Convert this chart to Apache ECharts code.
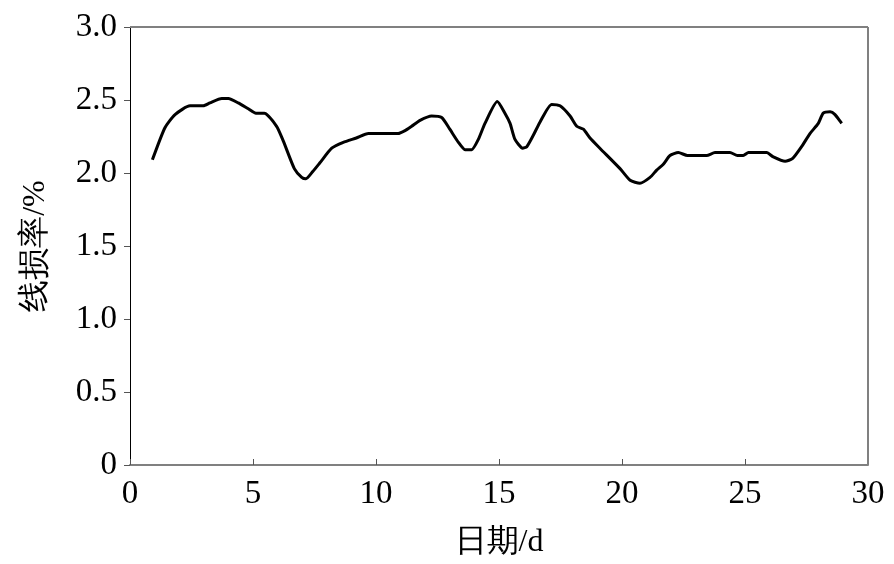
<!DOCTYPE html>
<html>
<head>
<meta charset="utf-8">
<script src="https://cdn.jsdelivr.net/npm/echarts@6/dist/echarts.min.js"></script>
<style>html,body{margin:0;padding:0;background:#fff}#c{width:894px;height:564px}</style>
</head>
<body>
<div id="c"></div>
<script>
var days = [0.91,1.42,1.83,2.44,2.98,3.25,3.73,4.0,4.4,4.81,5.12,5.46,5.96,6.23,6.68,6.98,7.15,7.43,7.72,8.2,8.67,9.2,9.69,10.16,10.9,11.18,11.45,11.79,12.26,12.67,13.0,13.35,13.62,13.89,14.16,14.43,14.93,15.24,15.45,15.65,15.96,16.13,16.4,16.67,17.14,17.48,17.89,18.16,18.43,18.7,19.1,19.92,20.33,20.73,21.14,21.41,21.68,21.95,22.29,22.66,23.44,23.78,24.39,24.69,24.93,25.14,25.88,26.15,26.63,26.94,27.3,27.64,27.98,28.18,28.46,28.66,28.93];
var rates = [2.09,2.31,2.40,2.46,2.46,2.48,2.51,2.51,2.48,2.44,2.41,2.41,2.32,2.22,2.03,1.97,1.96,2.01,2.07,2.17,2.21,2.24,2.27,2.27,2.27,2.29,2.32,2.36,2.39,2.38,2.30,2.21,2.16,2.16,2.23,2.34,2.49,2.41,2.34,2.23,2.17,2.18,2.26,2.35,2.47,2.46,2.39,2.32,2.30,2.24,2.17,2.03,1.95,1.93,1.97,2.02,2.06,2.12,2.14,2.12,2.12,2.14,2.14,2.12,2.12,2.14,2.14,2.11,2.08,2.10,2.18,2.27,2.34,2.41,2.42,2.40,2.34];
var xTicks = [0,5,10,15,20,25,30];
var yTicks = ['0','0.5','1.0','1.5','2.0','2.5','3.0'];

var pts = days.map(function(d,i){return [d, rates[i]];});
var font = 'Liberation Serif';
var chart = echarts.init(document.getElementById('c'));
chart.setOption({
  animation: false,
  backgroundColor: '#fff',
  grid: {left: 130, right: 26, top: 27, bottom: 98},
  xAxis: {
    type: 'value', min: 0, max: 30, interval: 5,
    name: '日期/d', nameLocation: 'middle', nameGap: 62,
    nameTextStyle: {fontFamily: font, fontSize: 32, color: '#000'},
    axisLine: {show: true, lineStyle: {color: '#808080', width: 2}},
    axisTick: {show: true, inside: true, length: 6, lineStyle: {color: '#555', width: 1}},
    axisLabel: {fontFamily: font, fontSize: 33, color: '#000', margin: 13,
      formatter: function(v){ return xTicks.indexOf(v) >= 0 ? String(v) : ''; }},
    splitLine: {show: false}
  },
  yAxis: {
    type: 'value', min: 0, max: 3, interval: 0.5,
    name: '线损率/%', nameLocation: 'middle', nameGap: 78, nameRotate: 90,
    nameTextStyle: {fontFamily: font, fontSize: 32, color: '#000'},
    axisLine: {show: true, lineStyle: {color: '#000', width: 1}},
    axisTick: {show: true, inside: false, length: 6, lineStyle: {color: '#555', width: 1}},
    axisLabel: {fontFamily: font, fontSize: 33, color: '#000', margin: 13,
      formatter: function(v){ var s = v === 0 ? '0' : v.toFixed(1); return yTicks.indexOf(s) >= 0 ? s : ''; }},
    splitLine: {show: false}
  },
  series: [
    {
      type: 'line', data: pts, smooth: 0.2, showSymbol: false,
      lineStyle: {color: '#000', width: 3}
    },
    {
      type: 'line', data: [], silent: true,
      markLine: {
        silent: true, symbol: 'none', label: {show: false},
        lineStyle: {color: '#808080', width: 2, type: 'solid'},
        data: [
          [{coord: [0, 3]}, {coord: [30, 3]}],
          [{coord: [30, 0]}, {coord: [30, 3]}]
        ]
      }
    }
  ]
});
</script>
</body>
</html>
